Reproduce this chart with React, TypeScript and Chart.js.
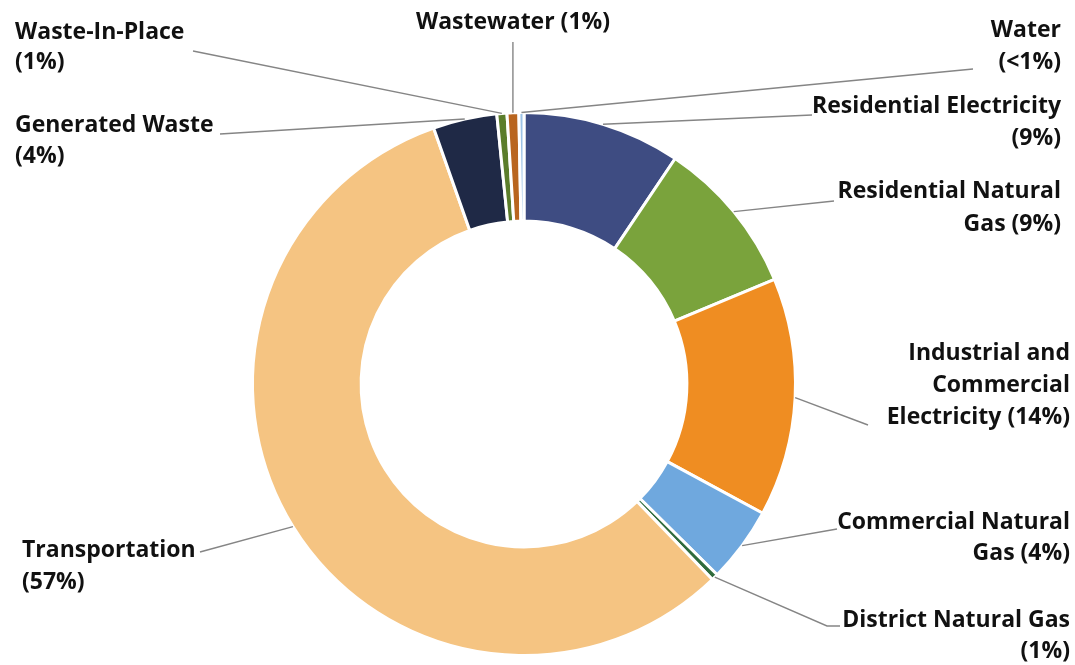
import React, { useEffect, useRef } from "react";
import { Chart, registerables } from "chart.js";

Chart.register(...registerables);

const categories = [
  "Residential Electricity",
  "Residential Natural Gas",
  "Industrial and Commercial Electricity",
  "Commercial Natural Gas",
  "District Natural Gas",
  "Transportation",
  "Generated Waste",
  "Waste-In-Place",
  "Wastewater",
  "Water",
];
const shares = [9.4, 9.3, 14.2, 4.5, 0.4, 56.8, 3.8, 0.6, 0.7, 0.3];
const shareLabels = ["9%", "9%", "14%", "4%", "1%", "57%", "4%", "1%", "1%", "<1%"];
const colors = [
  "#3e4c82",
  "#7aa33c",
  "#ef8d22",
  "#6fa8de",
  "#2f6b3c",
  "#f5c482",
  "#1f2946",
  "#5b7d2b",
  "#b9651f",
  "#9dc3e6",
];

// label text layout ({p} is replaced by the share label)
type LabelLayout = {
  lines: string[];
  align: CanvasTextAlign;
  x: number;
  ys: number[];
  path: number[][];
};
const labelLayout: LabelLayout[] = [
  { lines: ["Residential Electricity", "({p})"], align: "right", x: 1061, ys: [106, 138], path: [[812, 115]] },
  { lines: ["Residential Natural", "Gas ({p})"], align: "right", x: 1061, ys: [191, 224], path: [[834, 201]] },
  { lines: ["Industrial and", "Commercial", "Electricity ({p})"], align: "right", x: 1070, ys: [353, 385, 417], path: [[868, 425]] },
  { lines: ["Commercial Natural", "Gas ({p})"], align: "right", x: 1070, ys: [522, 553], path: [[837, 529]] },
  { lines: ["District Natural Gas", "({p})"], align: "right", x: 1070, ys: [620, 651], path: [[827, 626], [840, 626]] },
  { lines: ["Transportation", "({p})"], align: "left", x: 22, ys: [550, 582], path: [[200, 552]] },
  { lines: ["Generated Waste", "({p})"], align: "left", x: 15, ys: [125, 156], path: [[220, 134]] },
  { lines: ["Waste-In-Place", "({p})"], align: "left", x: 15, ys: [32, 62], path: [[193, 51]] },
  { lines: ["Wastewater ({p})"], align: "center", x: 513, ys: [22], path: [[-1, 42]] },
  { lines: ["Water", "({p})"], align: "right", x: 1061, ys: [30, 62], path: [[973, 69]] },
];

const labelPlugin = {
  id: "calloutLabels",
  afterDraw(chart: any) {
    const ctx: CanvasRenderingContext2D = chart.ctx;
    const meta = chart.getDatasetMeta(0);
    ctx.save();
    meta.data.forEach((arc: any, i: number) => {
      const lay = labelLayout[i];
      if (!lay) return;
      const { x, y, startAngle, endAngle, outerRadius } = arc.getProps(
        ["x", "y", "startAngle", "endAngle", "outerRadius"],
        true
      );
      const mid = (startAngle + endAngle) / 2;
      const sx = x + Math.cos(mid) * outerRadius;
      const sy = y + Math.sin(mid) * outerRadius;
      ctx.beginPath();
      ctx.strokeStyle = "#858585";
      ctx.lineWidth = 1.4;
      ctx.moveTo(sx, sy);
      lay.path.forEach((p) => ctx.lineTo(p[0] < 0 ? sx : p[0], p[1]));
      ctx.stroke();

      ctx.fillStyle = "#111111";
      ctx.font = 'bold 23px "Open Sans"';
      ctx.textAlign = lay.align;
      ctx.textBaseline = "middle";
      lay.lines.forEach((ln, k) => {
        ctx.fillText(ln.replace("{p}", shareLabels[i]), lay.x, lay.ys[k]);
      });
    });
    ctx.restore();
  },
};

export default function App() {
  const ref = useRef<HTMLCanvasElement | null>(null);
  useEffect(() => {
    if (!ref.current) return;
    const chart = new Chart(ref.current, {
      type: "doughnut",
      data: {
        labels: categories,
        datasets: [
          {
            data: shares,
            backgroundColor: colors,
            borderColor: "#ffffff",
            borderWidth: 3,
          },
        ],
      },
      options: {
        responsive: false,
        animation: false,
        cutout: "60%",
        layout: { padding: { left: 251, right: 278, top: 111, bottom: 8 } },
        plugins: {
          legend: { display: false },
          tooltip: { enabled: false },
        },
      },
      plugins: [labelPlugin],
    });
    return () => chart.destroy();
  }, []);
  return (
    <div style={{ position: "fixed", left: 0, top: 0, width: 1075, height: 665, background: "#ffffff" }}>
      <canvas ref={ref} width={1075} height={665} style={{ width: 1075, height: 665 }} />
    </div>
  );
}
